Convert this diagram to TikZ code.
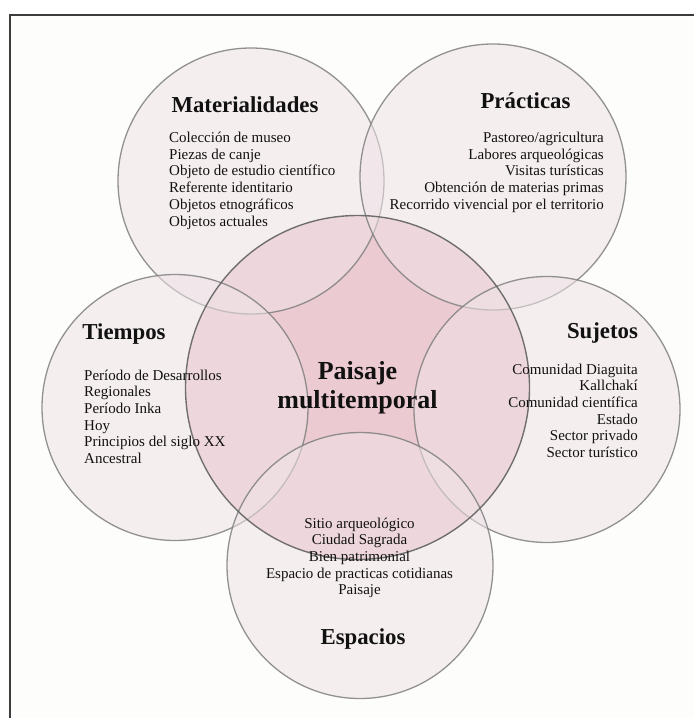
\documentclass[tikz,border=0pt]{standalone}
\usepackage{fontspec}
\setmainfont{Liberation Serif}
\definecolor{smallfill}{HTML}{EFE3E6}
\definecolor{centralfill}{HTML}{EBCAD1}
\definecolor{circgray}{HTML}{808080}
\definecolor{centgray}{HTML}{626262}
\definecolor{framegray}{HTML}{3C3C3C}
\definecolor{txt}{HTML}{111111}
\tikzset{
  smallc/.style={circle, inner sep=0pt, outer sep=0pt, minimum size=266pt,
    fill=smallfill, fill opacity=0.55, draw=circgray, draw opacity=0.85, line width=1.3pt},
  centralc/.style={circle, inner sep=0pt, outer sep=0pt, minimum size=344pt,
    fill=centralfill},
  centralline/.style={circle, inner sep=0pt, outer sep=0pt, minimum size=344pt,
    draw=centgray, draw opacity=0.9, line width=1.4pt},
  titletxt/.style={inner sep=0pt, text=txt, font=\fontsize{22.8}{25}\selectfont\bfseries},
  itemtxt/.style={inner sep=0pt, text=txt, font=\fontsize{15}{16.7}\selectfont},
  centtxt/.style={inner sep=0pt, text=txt, font=\fontsize{26}{29}\selectfont\bfseries},
}
\begin{document}
\begin{tikzpicture}[x=1pt,y=-1pt]
\useasboundingbox (0,0) rectangle (694,718);
\fill[white] (0,0) rectangle (694,718);
\fill[fill={rgb,255:red,253;green,253;blue,251}] (10,14.5) rectangle (694,718);
\draw[framegray, line width=2pt] (10,718) -- (10,14.5) -- (694,14.5);

% central circle fill
\node[centralc] (cen) at (357.5,387.5) {};
% small circles
\node[smallc] (mat) at (251,181) {};
\node[smallc] (pra) at (493,177) {};
\node[smallc] (tie) at (175,407.5) {};
\node[smallc] (suj) at (547,409.5) {};
\node[smallc] (esp) at (360,565.5) {};
% central outline
\node[centralline] (cenline) at (357.5,387.5) {};

% titles
\node[titletxt, anchor=base] (matT) at (245,112.5) {Materialidades};
\node[titletxt, anchor=base] (praT) at (525.5,108) {Prácticas};
\node[titletxt, anchor=base] (tieT) at (124,339.5) {Tiempos};
\node[titletxt, anchor=base] (sujT) at (602.5,338.5) {Sujetos};
\node[titletxt, anchor=base] (espT) at (363,644) {Espacios};

% central text
\node[centtxt, anchor=base] (cenT) at (357.5,379) {\begin{tabular}[t]{@{}c@{}}Paisaje\\multitemporal\end{tabular}};

% item lists
\node[itemtxt, anchor=base west] (matI) at (169,142.5) {\begin{tabular}[t]{@{}l@{}}Colección de museo\\Piezas de canje\\Objeto de estudio científico\\Referente identitario\\Objetos etnográficos\\Objetos actuales\end{tabular}};
\node[itemtxt, anchor=base east] (praI) at (604,142.5) {\begin{tabular}[t]{@{}r@{}}Pastoreo/agricultura\\Labores arqueológicas\\Visitas turísticas\\Obtención de materias primas\\Recorrido vivencial por el territorio\end{tabular}};
\node[itemtxt, anchor=base west] (tieI) at (84,380) {\begin{tabular}[t]{@{}l@{}}Período de Desarrollos\\Regionales\\Período Inka\\Hoy\\Principios del siglo XX\\Ancestral\end{tabular}};
\node[itemtxt, anchor=base east] (sujI) at (638,374) {\begin{tabular}[t]{@{}r@{}}Comunidad Diaguita\\Kallchakí\\Comunidad científica\\Estado\\Sector privado\\Sector turístico\end{tabular}};
\node[itemtxt, anchor=base] (espI) at (359.5,528) {\begin{tabular}[t]{@{}c@{}}Sitio arqueológico\\Ciudad Sagrada\\Bien patrimonial\\Espacio de practicas cotidianas\\Paisaje\end{tabular}};
\end{tikzpicture}
\end{document}
